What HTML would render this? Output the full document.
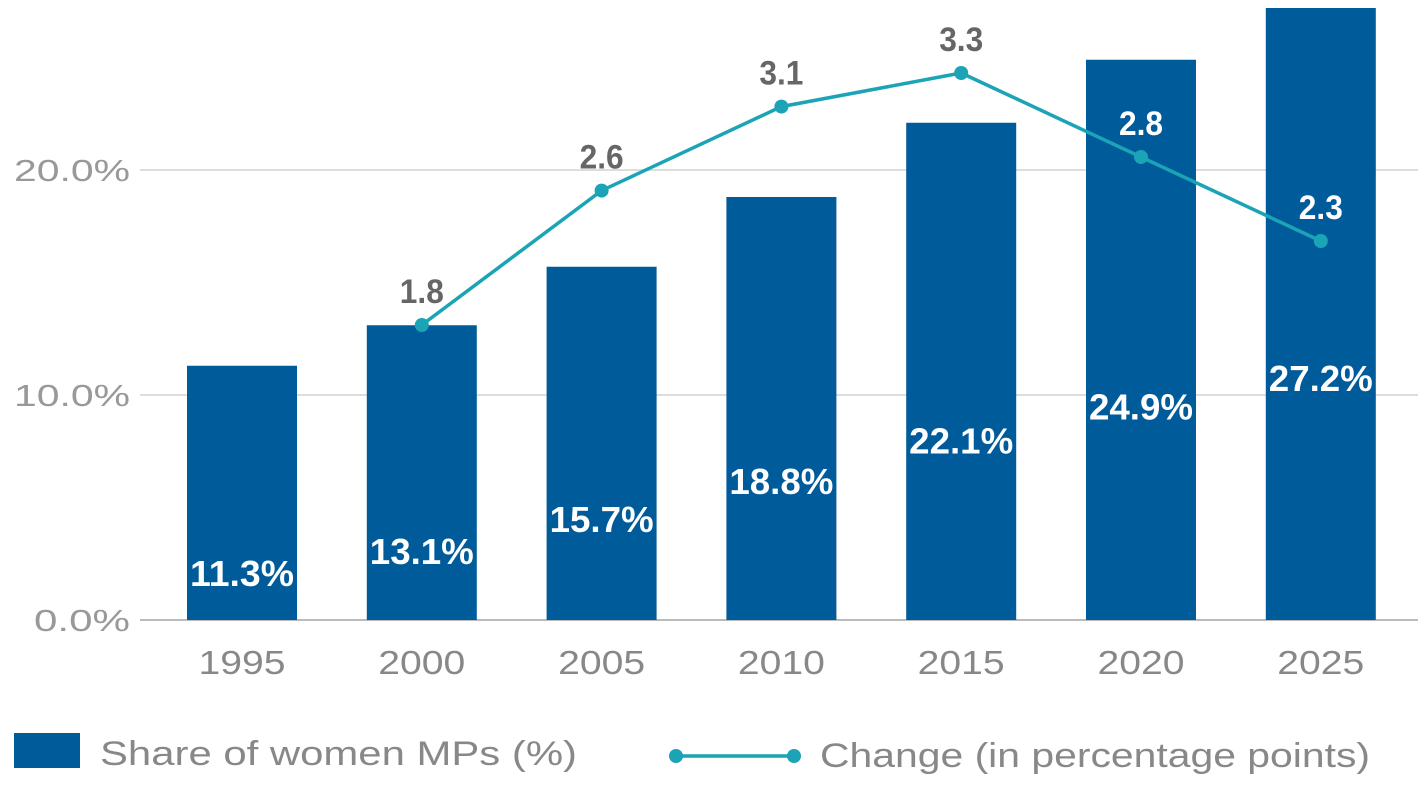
<!DOCTYPE html>
<html><head><meta charset="utf-8">
<style>
body{margin:0;background:#fff;width:1418px;height:788px;overflow:hidden}
text{font-family:"Liberation Sans",sans-serif}
.c{font-weight:bold}
</style></head><body>
<svg id="chart" width="1418" height="788"></svg>
<script>
const years=["1995","2000","2005","2010","2015","2020","2025"];
const shares=[11.3,13.1,15.7,18.8,22.1,24.9,27.2];
const changes=[null,1.8,2.6,3.1,3.3,2.8,2.3];
const yTicks=[0,10,20];
const yTickLabels=["0.0%","10.0%","20.0%"];
const NS="http://www.w3.org/2000/svg";
const svg=document.getElementById('chart');
const y=v=>620-v*22.5;
const y2=v=>627.4-v*168;
const x=i=>242+i*179.8;
function mk(t,a,txt){const e=document.createElementNS(NS,t);for(const k in a)e.setAttribute(k,a[k]);if(txt!=null)e.textContent=txt;svg.appendChild(e);return e;}
yTicks.forEach((v,i)=>{
 const g=mk('line',{x1:140,x2:1418,y1:y(v),y2:y(v),stroke:v===0?'#bbb':'#ddd','stroke-width':2});
 
 const t=mk('text',{x:130,y:y(v)+11,'text-anchor':'end','font-size':31,fill:'#999',textLength:i===0?96:116,lengthAdjust:'spacingAndGlyphs'},yTickLabels[i]);
 
});
years.forEach((yr,i)=>{
 const b=mk('rect',{x:x(i)-55,y:y(shares[i]),width:110,height:620-y(shares[i]),fill:'#005b9b'});
 
 const l=mk('text',{x:x(i),y:0.545*y(shares[i])+373.7+13,'text-anchor':'middle','font-size':36,fill:'#fff',class:'c',textLength:104,lengthAdjust:'spacingAndGlyphs'},shares[i].toFixed(1)+'%');
 
 const xt=mk('text',{x:x(i),y:674,'text-anchor':'middle','font-size':33,fill:'#888',textLength:87,lengthAdjust:'spacingAndGlyphs'},yr);
 
});
let pts=[];changes.forEach((c,i)=>{if(c!=null)pts.push([x(i),y2(c),c,i]);});
const pl=mk('polyline',{points:pts.map(p=>p[0]+','+p[1]).join(' '),fill:'none',stroke:'#1ba3b6','stroke-width':3.5});

pts.forEach(p=>{
 const c=mk('circle',{cx:p[0],cy:p[1],r:7,fill:'#1ba3b6'});
 
 const onBar=y(shares[p[3]])<p[1]-45;
 const t=mk('text',{x:p[0],y:p[1]-22,'text-anchor':'middle','font-size':34,fill:onBar?'#fff':'#666',class:'c',textLength:44,lengthAdjust:'spacingAndGlyphs'},p[2].toFixed(1));
 
});
const lr=mk('rect',{x:14,y:733,width:66,height:35,fill:'#005b9b'});

const lt=mk('text',{x:100,y:765,'font-size':34,fill:'#888',textLength:477,lengthAdjust:'spacingAndGlyphs'},'Share of women MPs (%)');

const ll=mk('line',{x1:676,x2:794,y1:756,y2:756,stroke:'#1ba3b6','stroke-width':3.5});

[676,794].forEach(cx=>{const c=mk('circle',{cx:cx,cy:756,r:7,fill:'#1ba3b6'});});
const lt2=mk('text',{x:820,y:767,'font-size':34,fill:'#888',textLength:550,lengthAdjust:'spacingAndGlyphs'},'Change (in percentage points)');

</script>
</body></html>
